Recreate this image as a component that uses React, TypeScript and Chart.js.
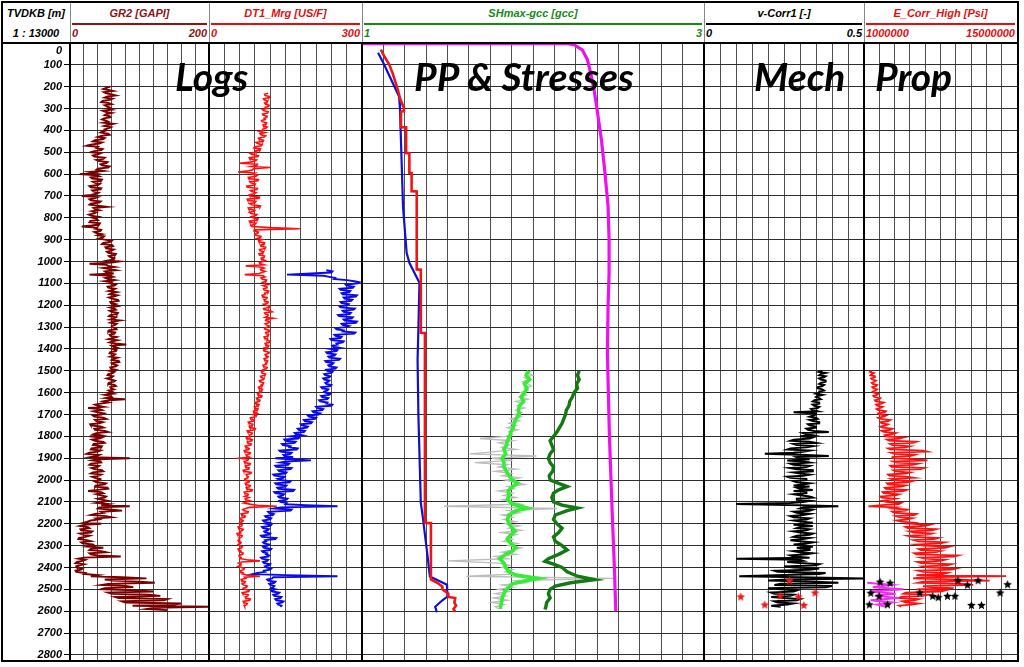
import React, { useEffect, useRef } from 'react';
import { Chart, registerables } from 'chart.js';

Chart.register(...registerables);

// ---------------- DATA ----------------
const DEPTH_MIN = 0;
const DEPTH_MAX = 2828;
const DEPTH_TICKS = [0, 100, 200, 300, 400, 500, 600, 700, 800, 900, 1000, 1100, 1200, 1300, 1400, 1500, 1600, 1700, 1800, 1900, 2000, 2100, 2200, 2300, 2400, 2500, 2600, 2700, 2800];

// GR2 [GAPI], sampled every 5 m from 200 m
const GR2_TOP = 200;
const GR2_STEP = 5;
const gr2 = [
  58, 52, 48, 55, 62, 49, 52, 60, 66, 54, 50, 61, 57, 47, 45, 56, 60, 50, 53, 57,
  54, 60, 47, 51, 60, 53, 50, 57, 58, 49, 46, 52, 55, 48, 62, 54, 49, 59, 56, 50,
  52, 47, 44, 55, 57, 45, 40, 50, 48, 36, 33, 46, 42, 30, 24, 40, 38, 47, 45, 35,
  30, 44, 40, 33, 35, 50, 48, 38, 42, 54, 52, 44, 46, 57, 55, 40, 38, 48, 28, 36,
  14, 38, 42, 30, 32, 46, 45, 33, 36, 43, 40, 28, 30, 45, 44, 32, 34, 41, 38, 30,
  17, 40, 36, 28, 30, 44, 42, 30, 28, 40, 53, 34, 36, 42, 32, 38, 35, 27, 30, 40,
  33, 38, 40, 29, 28, 43, 42, 31, 17, 38, 36, 45, 44, 35, 38, 46, 40, 49, 47, 42,
  50, 60, 58, 48, 46, 61, 62, 51, 52, 63, 60, 53, 55, 66, 65, 56, 58, 64, 63, 55,
  71, 60, 28, 52, 55, 64, 48, 57, 66, 50, 52, 63, 28, 58, 62, 51, 55, 64, 50, 60,
  58, 66, 64, 54, 55, 65, 62, 56, 67, 60, 57, 68, 63, 56, 60, 69, 70, 58, 59, 66,
  62, 68, 58, 64, 66, 57, 60, 69, 68, 58, 56, 66, 63, 58, 72, 62, 58, 67, 65, 60,
  60, 66, 67, 56, 55, 65, 64, 57, 58, 67, 62, 56, 68, 61, 57, 66, 81, 60, 63, 68,
  61, 67, 66, 58, 57, 65, 63, 58, 68, 62, 60, 70, 71, 60, 62, 68, 66, 58, 59, 65,
  57, 64, 62, 55, 54, 62, 60, 53, 58, 65, 63, 56, 55, 64, 66, 58, 59, 63, 56, 60,
  55, 62, 50, 58, 60, 52, 79, 56, 48, 55, 44, 36, 40, 48, 26, 42, 46, 34, 40, 49,
  45, 33, 35, 48, 52, 36, 38, 47, 42, 29, 30, 44, 48, 35, 36, 50, 55, 38, 34, 44,
  28, 46, 42, 32, 36, 48, 50, 34, 33, 46, 45, 31, 30, 44, 40, 28, 24, 42, 38, 30,
  86, 40, 32, 44, 45, 30, 28, 42, 40, 31, 35, 46, 48, 33, 30, 45, 42, 32, 36, 44,
  44, 35, 38, 52, 50, 37, 36, 54, 55, 40, 26, 45, 48, 38, 44, 52, 50, 40, 46, 54,
  47, 38, 55, 45, 86, 42, 40, 58, 75, 45, 48, 36, 30, 52, 60, 38, 42, 30, 25, 20,
  45, 20, 14, 26, 28, 15, 16, 32, 30, 14, 18, 28, 22, 13, 12, 24, 30, 16, 18, 33,
  35, 26, 48, 30, 28, 45, 52, 28, 30, 40, 73, 20, 12, 22, 18, 10, 8, 20, 14, 9,
  10, 18, 16, 8, 9, 22, 20, 40, 30, 75, 110, 50, 60, 100, 122, 55, 45, 80, 91, 50,
  45, 95, 120, 55, 60, 115, 130, 65, 70, 140, 135, 75, 80, 160, 150, 90, 200, 120, 110, 140,
];

// DT1_Mrg [US/F] (red), every 5 m from 230 m
const DT1_TOP = 230;
const DT1_STEP = 5;
const dt1 = [
  116, 109, 110, 119, 118, 107, 108, 115, 114, 109, 111, 118, 117, 110,
  112, 105, 108, 116, 115, 105, 106, 114, 113, 108, 110, 103, 104, 113, 112, 106, 107, 114, 111, 105,
  105, 99, 110, 100, 102, 111, 108, 97, 98, 107, 106, 92, 95, 104, 103, 90, 88, 101, 100, 91,
  92, 81, 84, 97, 96, 79, 80, 93, 90, 82, 60, 95, 94, 83, 120, 87, 86, 78, 57, 90,
  85, 95, 92, 77, 78, 97, 96, 80, 82, 91, 90, 74, 75, 95, 94, 81, 84, 92, 88, 79,
  80, 99, 98, 75, 76, 92, 90, 80, 84, 101, 100, 77, 78, 90, 88, 79, 82, 94, 92, 83,
  86, 96, 95, 79, 80, 92, 90, 82, 84, 120, 178, 89, 88, 97, 96, 90, 92, 102, 100, 94,
  104, 97, 98, 109, 108, 101, 102, 111, 110, 99, 100, 107, 106, 98, 99, 109, 108, 102, 103, 110,
  106, 99, 100, 108, 72, 100, 108, 101, 102, 110, 104, 98, 70, 106, 110, 102, 104, 113, 112, 105,
  110, 116, 106, 113, 114, 107, 108, 117, 116, 109, 110, 104, 105, 114, 113, 108, 109, 116, 115, 107,
  112, 119, 118, 107, 108, 120, 124, 109, 110, 116, 115, 110, 126, 112, 111, 119, 117, 110, 113, 118,
  115, 109, 110, 119, 118, 111, 112, 117, 116, 108, 109, 115, 114, 120, 119, 110, 111, 117, 116, 109,
  113, 107, 108, 118, 117, 110, 111, 116, 115, 108, 109, 115, 114, 111, 112, 106, 107, 114, 113, 106,
  108, 103, 104, 111, 110, 101, 102, 108, 107, 99, 100, 107, 106, 102, 103, 97, 98, 105, 104, 99,
  100, 95, 96, 104, 103, 93, 94, 100, 99, 91, 92, 98, 97, 89, 90, 96, 95, 87, 88, 94,
  86, 93, 92, 81, 82, 89, 88, 77, 78, 86, 85, 79, 80, 91, 90, 75, 76, 85, 84, 79,
  80, 73, 74, 85, 84, 75, 76, 83, 82, 71, 72, 79, 78, 69, 70, 81, 80, 73, 74, 79,
  60, 77, 76, 69, 70, 81, 80, 71, 72, 79, 78, 67, 68, 83, 82, 73, 74, 77, 76, 70,
  70, 79, 78, 71, 72, 81, 80, 73, 74, 85, 84, 69, 70, 77, 76, 70, 78, 71, 72, 80,
  74, 68, 80, 95, 133, 80, 72, 66, 68, 77, 76, 63, 64, 71, 70, 61, 62, 67, 66, 60,
  60, 65, 64, 57, 58, 67, 66, 61, 62, 55, 56, 65, 64, 59, 60, 57, 58, 63, 62, 57,
  60, 65, 64, 57, 58, 63, 62, 67, 66, 59, 60, 63, 62, 75, 100, 64, 58, 63, 62, 57,
  64, 69, 68, 61, 62, 67, 66, 75, 100, 70, 72, 63, 64, 71, 70, 65, 68, 75, 74, 67,
  70, 79, 78, 65, 66, 77, 76, 71, 72, 81, 80, 67, 68, 75, 74, 69, 70,
];

// Shear slowness (blue) in DT1 track, every 5 m from 1040 m
const DTS_TOP = 1040;
const DTS_STEP = 5;
const dts = [
  230, 242, 240, 200, 153, 225, 236, 247, 245, 270, 285, 295,
  292, 268, 270, 284, 282, 256, 258, 277, 275, 260, 262, 290, 288, 264, 266, 281, 279, 258, 260, 274,
  272, 256, 258, 286, 284, 262, 264, 278, 276, 253, 255, 282, 280, 264, 266, 290, 288, 260, 262, 274,
  268, 248, 250, 264, 262, 287, 285, 246, 248, 260, 258, 238, 240, 264, 262, 250, 252, 242, 244, 256,
  238, 252, 250, 230, 232, 248, 246, 234, 236, 257, 255, 228, 230, 244, 242, 234, 236, 250, 248, 230,
  232, 242, 240, 226, 228, 238, 236, 224, 226, 236, 234, 228, 230, 240, 238, 220, 222, 234, 232, 226,
  228, 238, 236, 220, 222, 234, 232, 216, 218, 232, 230, 242, 240, 210, 212, 224, 222, 203, 205, 218,
  215, 194, 196, 210, 208, 186, 188, 202, 200, 180, 182, 194, 192, 174, 176, 188, 186, 168, 170, 182,
  160, 177, 175, 148, 150, 170, 168, 143, 145, 160, 158, 174, 172, 138, 140, 162, 160, 146, 148, 165,
  130, 160, 200, 150, 140, 157, 155, 130, 132, 162, 160, 136, 138, 152, 150, 126, 128, 148, 146, 135,
  140, 160, 158, 130, 132, 152, 150, 134, 136, 167, 165, 128, 130, 147, 145, 136, 138, 154, 152, 138,
  140, 152, 150, 190, 252, 140, 128, 162, 160, 116, 118, 127, 125, 110, 112, 122, 120, 106, 108, 118,
  112, 122, 120, 104, 106, 117, 115, 108, 110, 120, 118, 102, 104, 132, 130, 110, 112, 106, 108, 118,
  115, 106, 108, 122, 120, 104, 106, 114, 112, 118, 116, 102, 104, 116, 114, 106, 108, 120, 118, 110,
  112, 122, 120, 108, 110, 95, 86, 150, 252, 126, 124, 114, 116, 130, 128, 118, 120, 128, 126, 122,
  130, 122, 124, 138, 136, 126, 128, 142, 140, 130, 132, 146, 144, 134, 136, 142, 140,
];

// PP & Stresses track [depth, gcc]
const ppRed: [number, number][] = [
  [30, 1.11], [60, 1.13], [100, 1.16], [140, 1.18], [215, 1.21], [260, 1.225], [298, 1.245], [312, 1.245],
  [314, 1.228], [385, 1.228], [386, 1.258], [503, 1.258], [504, 1.277], [594, 1.277], [595, 1.29], [678, 1.29],
  [679, 1.32], [1036, 1.32], [1037, 1.344], [1326, 1.344], [1327, 1.368], [2196, 1.368], [2197, 1.403],
  [2455, 1.403], [2470, 1.44], [2487, 1.47], [2500, 1.47], [2520, 1.505], [2535, 1.505], [2540, 1.545],
  [2560, 1.54], [2575, 1.55], [2590, 1.535], [2602, 1.545],
];
const ppBlue: [number, number][] = [
  [45, 1.094], [100, 1.13], [150, 1.16], [200, 1.19], [245, 1.217], [300, 1.222], [400, 1.226], [500, 1.23],
  [600, 1.234], [750, 1.24], [960, 1.261], [1006, 1.277], [1097, 1.336], [1300, 1.33], [1450, 1.325],
  [1710, 1.33], [2105, 1.344], [2166, 1.355], [2319, 1.379], [2441, 1.397], [2479, 1.497], [2533, 1.5],
  [2550, 1.47], [2580, 1.428], [2605, 1.438],
];
const obMagenta: [number, number][] = [
  [3, 1.0], [3, 2.2], [8, 2.24], [31, 2.288], [76, 2.318], [137, 2.337], [214, 2.357], [290, 2.372],
  [443, 2.4], [595, 2.421], [748, 2.439], [900, 2.445], [1053, 2.445], [1205, 2.439], [1417, 2.435],
  [1800, 2.447], [2167, 2.464], [2400, 2.476], [2600, 2.484],
];
const shLightGreen: [number, number][] = [
  [1500, 1.975], [1520, 1.96], [1540, 1.98], [1560, 1.95], [1580, 1.965], [1600, 1.95], [1620, 1.93],
  [1640, 1.945], [1660, 1.92], [1680, 1.915], [1700, 1.92], [1720, 1.9], [1740, 1.89], [1760, 1.885],
  [1780, 1.87], [1800, 1.865], [1820, 1.85], [1840, 1.845], [1860, 1.83], [1880, 1.84], [1900, 1.82],
  [1920, 1.83], [1940, 1.83], [1960, 1.845], [1980, 1.86], [2000, 1.88], [2015, 1.91], [2030, 1.88],
  [2050, 1.855], [2070, 1.86], [2090, 1.85], [2110, 1.88], [2128, 1.966], [2140, 1.9], [2160, 1.86],
  [2180, 1.85], [2200, 1.86], [2220, 1.88], [2235, 1.895], [2250, 1.87], [2270, 1.85], [2290, 1.87],
  [2310, 1.9], [2325, 1.88], [2340, 1.84], [2360, 1.805], [2380, 1.83], [2400, 1.84], [2420, 1.86],
  [2435, 1.9], [2450, 2.03], [2462, 1.95], [2475, 1.88], [2490, 1.86], [2505, 1.84], [2520, 1.83],
  [2540, 1.82], [2560, 1.815], [2580, 1.81], [2590, 1.81],
];
// gray raw stress curve, every 10 m from 1500 m
const SH_GRAY_TOP = 1500;
const SH_GRAY_STEP = 10;
const shGray = [
  1.99, 1.96, 2.0, 1.95, 1.98, 1.94, 1.97, 1.99, 1.95, 1.97,
  1.93, 1.96, 1.92, 1.97, 1.9, 1.94, 1.91, 1.95, 1.9, 1.93,
  1.89, 1.93, 1.87, 1.92, 1.86, 1.9, 1.85, 1.91, 1.86, 1.88,
  1.84, 1.69, 1.88, 1.8, 1.86, 1.82, 1.9, 1.78, 1.63, 2.02,
  1.76, 1.88, 1.66, 1.85, 1.8, 1.9, 1.78, 1.87, 1.82, 1.92,
  1.84, 1.9, 1.95, 1.85, 1.89, 1.8, 1.88, 1.83, 1.9, 1.82,
  1.87, 1.93, 1.48, 2.14, 1.86, 1.92, 1.82, 1.88, 1.83, 1.9,
  1.84, 1.92, 1.86, 1.93, 1.82, 1.9, 1.85, 1.88, 1.83, 1.91,
  1.86, 1.93, 1.88, 1.82, 1.9, 1.78, 1.85, 1.5, 1.8, 1.86,
  1.82, 1.88, 1.84, 1.9, 1.61, 2.47, 1.9, 1.96, 1.82, 1.88,
  1.8, 1.86, 1.78, 1.84, 1.77, 1.85, 1.76, 1.83, 1.78, 1.8,
];
const shDarkGreen: [number, number][] = [
  [1500, 2.27], [1520, 2.26], [1540, 2.27], [1560, 2.255], [1580, 2.26], [1600, 2.24], [1620, 2.23],
  [1640, 2.215], [1660, 2.21], [1680, 2.195], [1700, 2.19], [1720, 2.18], [1740, 2.17], [1760, 2.155],
  [1780, 2.14], [1800, 2.12], [1820, 2.1], [1840, 2.11], [1860, 2.12], [1880, 2.1], [1900, 2.09],
  [1920, 2.1], [1940, 2.12], [1960, 2.115], [1980, 2.095], [2000, 2.1], [2015, 2.15], [2030, 2.2],
  [2045, 2.15], [2060, 2.12], [2080, 2.11], [2100, 2.12], [2115, 2.17], [2128, 2.26], [2140, 2.2],
  [2160, 2.13], [2180, 2.12], [2200, 2.14], [2220, 2.17], [2240, 2.15], [2260, 2.12], [2280, 2.13],
  [2300, 2.17], [2320, 2.2], [2340, 2.15], [2360, 2.09], [2372, 2.07], [2385, 2.12], [2400, 2.17],
  [2420, 2.2], [2440, 2.26], [2456, 2.36], [2470, 2.22], [2485, 2.13], [2500, 2.1], [2520, 2.09],
  [2540, 2.1], [2560, 2.08], [2580, 2.075], [2592, 2.07],
];

// v-Corr1 [-], every 5 m from 1500 m
const VC_TOP = 1500;
const VC_STEP = 5;
const vCorr = [
  0.37, 0.36, 0.38, 0.365, 0.36, 0.38, 0.375, 0.36, 0.365, 0.38, 0.38, 0.365, 0.36, 0.375, 0.37, 0.355, 0.355, 0.37, 0.375, 0.36,
  0.36, 0.35, 0.37, 0.355, 0.35, 0.36, 0.365, 0.345, 0.34, 0.36, 0.36, 0.34, 0.345, 0.36, 0.355, 0.335, 0.34, 0.355, 0.28, 0.35,
  0.35, 0.34, 0.33, 0.35, 0.355, 0.33, 0.34, 0.36, 0.36, 0.325, 0.33, 0.35, 0.35, 0.32, 0.325, 0.345, 0.39, 0.31, 0.32, 0.34,
  0.3, 0.34, 0.33, 0.28, 0.27, 0.33, 0.35, 0.28, 0.29, 0.34, 0.32, 0.27, 0.26, 0.33, 0.31, 0.28, 0.19, 0.32, 0.39, 0.29,
  0.3, 0.33, 0.26, 0.31, 0.33, 0.27, 0.28, 0.33, 0.32, 0.27, 0.29, 0.34, 0.34, 0.28, 0.3, 0.33, 0.31, 0.26, 0.27, 0.32,
  0.32, 0.28, 0.29, 0.33, 0.31, 0.28, 0.33, 0.29, 0.3, 0.34, 0.28, 0.32, 0.32, 0.28, 0.3, 0.33, 0.34, 0.29, 0.29, 0.33,
  0.31, 0.27, 0.1, 0.3, 0.42, 0.31, 0.3, 0.34, 0.33, 0.28, 0.29, 0.33, 0.31, 0.27, 0.28, 0.33, 0.32, 0.28, 0.3, 0.34,
  0.31, 0.28, 0.34, 0.3, 0.29, 0.33, 0.32, 0.28, 0.3, 0.34, 0.33, 0.29, 0.28, 0.33, 0.31, 0.27, 0.3, 0.34, 0.32, 0.28,
  0.31, 0.34, 0.29, 0.33, 0.33, 0.28, 0.3, 0.34, 0.32, 0.27, 0.28, 0.33, 0.1, 0.3, 0.31, 0.26, 0.3, 0.36, 0.35, 0.25,
  0.28, 0.36, 0.33, 0.22, 0.23, 0.38, 0.36, 0.25, 0.11, 0.3, 0.5, 0.26, 0.2, 0.35, 0.42, 0.24, 0.22, 0.4, 0.38, 0.2,
  0.24, 0.29, 0.28, 0.21, 0.22, 0.28, 0.27, 0.21, 0.25, 0.3, 0.29, 0.22, 0.23, 0.28, 0.26, 0.21, 0.24,
];
// red core stars in v-Corr track [depth, value]
const vcStars: [number, number][] = [
  [2535, 0.115], [2572, 0.19], [2530, 0.238], [2461, 0.267], [2535, 0.295], [2574, 0.312], [2517, 0.347],
];

// E_Corr_High [Psi], in million psi, every 5 m from 1500 m
const E_UNIT = 1000000;
const E_TOP = 1500;
const E_STEP = 5;
const eCorr = [
  1.7, 1.55, 1.9, 1.7, 1.6, 2.0, 2.0, 1.65, 1.75, 2.1, 1.95, 1.7, 1.8, 2.2, 2.1, 1.75, 1.85, 2.2, 2.05, 1.8,
  1.9, 2.3, 2.2, 1.85, 1.95, 2.5, 2.4, 2.0, 2.1, 2.8, 2.6, 2.1, 2.2, 2.7, 2.5, 2.15, 2.3, 3.0, 2.9, 2.3,
  2.4, 3.0, 2.8, 2.3, 2.5, 3.4, 3.2, 2.5, 2.6, 3.2, 3.0, 2.5, 2.7, 3.6, 3.4, 2.6, 2.8, 3.9, 3.6, 2.9,
  3.0, 4.6, 4.2, 3.1, 3.3, 5.8, 5.5, 3.4, 3.6, 5.2, 4.8, 3.2, 3.4, 6.4, 6.8, 3.5, 3.8, 5.6, 5.2, 3.6,
  3.6, 5.8, 6.8, 3.7, 4.0, 5.9, 5.4, 3.4, 3.5, 6.5, 6.2, 3.7, 3.9, 5.2, 4.8, 3.2, 3.3, 5.0, 5.6, 3.5,
  3.8, 5.4, 5.0, 3.1, 3.2, 4.8, 4.4, 2.9, 3.0, 4.9, 4.6, 2.7, 2.8, 4.2, 3.9, 2.5, 2.6, 3.9, 3.5, 2.7,
  3.0, 4.4, 4.2, 2.6, 1.4, 4.0, 3.6, 5.0, 4.8, 3.6, 3.8, 5.8, 5.6, 3.9, 4.2, 5.4, 5.0, 4.0, 4.4, 5.6,
  5.2, 7.0, 6.6, 4.8, 5.0, 7.6, 7.2, 5.2, 5.6, 7.2, 6.8, 5.0, 5.4, 7.8, 7.4, 5.6, 6.0, 8.4, 8.0, 5.8,
  6.4, 8.8, 8.4, 6.0, 6.2, 8.0, 7.6, 5.6, 5.8, 9.6, 9.2, 6.2, 6.6, 8.4, 8.0, 5.9, 6.2, 9.0, 8.6, 6.4,
  6.8, 9.4, 9.0, 6.0, 6.4, 8.6, 8.2, 5.8, 14.0, 6.2, 5.5, 9.0, 12.5, 6.5, 6.0, 10.0, 11.0, 6.4, 7.0, 9.2,
  5.8, 8.4, 8.0, 4.8, 4.6, 6.8, 6.4, 4.4, 4.2, 6.0, 5.6, 4.5, 4.8, 6.0, 5.4, 4.2, 4.4,
];
// magenta E curve, every 10 m from 2470 m (million psi)
const E_MAG_TOP = 2470;
const E_MAG_STEP = 10;
const eMagenta = [1.3, 3.5, 1.8, 4.6, 1.5, 3.9, 2.0, 4.2, 1.6, 3.6, 2.2, 3.0];
// black core stars in E track [depth, million psi]
const eStars: [number, number][] = [
  [2467, 2.47], [2472, 3.39], [2461, 9.6], [2481, 10.46], [2461, 11.44], [2479, 14.14], [2517, 13.46],
  [2518, 1.62], [2532, 2.38], [2532, 7.29], [2538, 7.79], [2532, 8.64], [2532, 9.32], [2571, 1.49],
  [2571, 3.15], [2574, 10.83], [2574, 11.75], [2517, 6.1],
];

// ---------------- LAYOUT / STYLE ----------------
const PLOT_TOP = 43;
const PLOT_H = 618;
const FONT = '"Liberation Sans", Arial, sans-serif';
const HGRID = '#2e2e2e';
const VGRID = '#505050';

const range = (a: number, b: number, s: number) =>
  Array.from({ length: Math.round((b - a) / s) + 1 }, (_, i) => a + i * s);
const sampled = (top: number, step: number, vals: number[], mul = 1) =>
  vals.map((v, i) => ({ x: v * mul, y: top + i * step }));
const pairs = (arr: [number, number][], mul = 1) => arr.map(([d, v]) => ({ x: v * mul, y: d }));

const lineDs = (data: any[], color: string, width: number) => ({
  data,
  showLine: true,
  borderColor: color,
  backgroundColor: color,
  borderWidth: width,
  pointRadius: 0,
  tension: 0,
  fill: false,
});

function makeStar(color: string, r: number) {
  const c = document.createElement('canvas');
  const s = Math.ceil(r * 2 + 2);
  c.width = s;
  c.height = s;
  const ctx = c.getContext('2d')!;
  ctx.fillStyle = color;
  ctx.beginPath();
  for (let i = 0; i < 10; i++) {
    const a = -Math.PI / 2 + (i * Math.PI) / 5;
    const rr = i % 2 === 0 ? r : r * 0.45;
    const px = s / 2 + rr * Math.cos(a);
    const py = s / 2 + rr * Math.sin(a);
    if (i === 0) ctx.moveTo(px, py);
    else ctx.lineTo(px, py);
  }
  ctx.closePath();
  ctx.fill();
  return c;
}

type TrackCfg = {
  key: string;
  left: number;
  width: number;
  xMin: number;
  xMax: number;
  xStep: number;
  depthAxis?: boolean;
  datasets: () => any[];
};

// Note: Chart.js paints the first dataset on top.
const TRACKS: TrackCfg[] = [
  {
    key: 'gr', left: 2, width: 207, xMin: 0, xMax: 200, xStep: 20, depthAxis: true,
    datasets: () => [lineDs(sampled(GR2_TOP, GR2_STEP, gr2), '#7a0000', 1.9)],
  },
  {
    key: 'dt', left: 209, width: 153, xMin: 0, xMax: 300, xStep: 30,
    datasets: () => [
      lineDs(sampled(DT1_TOP, DT1_STEP, dt1), '#ff1010', 1.6),
      lineDs(sampled(DTS_TOP, DTS_STEP, dts), '#0a0ae8', 1.9),
    ],
  },
  {
    key: 'sh', left: 362, width: 342, xMin: 1, xMax: 3, xStep: 0.125,
    datasets: () => [
      lineDs(pairs(obMagenta), '#ee10ee', 3.2),
      lineDs(pairs(ppRed), '#ee1515', 2.6),
      lineDs(pairs(ppBlue), '#1010d0', 2.2),
      lineDs(pairs(shDarkGreen), '#137a13', 3.4),
      lineDs(pairs(shLightGreen), '#33ee33', 3.6),
      lineDs(sampled(SH_GRAY_TOP, SH_GRAY_STEP, shGray), '#bdbdbd', 1.4),
    ],
  },
  {
    key: 'vc', left: 704, width: 160, xMin: 0, xMax: 0.5, xStep: 0.05,
    datasets: () => [
      { data: pairs(vcStars), showLine: false, pointStyle: makeStar('#ee1a1a', 4.5), pointRadius: 5 },
      lineDs(sampled(VC_TOP, VC_STEP, vCorr), '#000000', 2),
    ],
  },
  {
    key: 'e', left: 864, width: 153, xMin: 1000000, xMax: 15000000, xStep: 1400000,
    datasets: () => [
      { data: pairs(eStars, E_UNIT), showLine: false, pointStyle: makeStar('#000000', 4.5), pointRadius: 5 },
      lineDs(sampled(E_MAG_TOP, E_MAG_STEP, eMagenta, E_UNIT), '#ee30ee', 2),
      lineDs(sampled(E_TOP, E_STEP, eCorr, E_UNIT), '#ff1010', 1.8),
    ],
  },
];

const HEADERS = [
  { left: 2, width: 68, title: 'TVDKB [m]', color: '#000', line: '', min: '', max: '', sub: '1 : 13000' },
  { left: 70, width: 139, title: 'GR2 [GAPI]', color: '#8b1414', line: '#8b1414', min: '0', max: '200', sub: '' },
  { left: 209, width: 153, title: 'DT1_Mrg [US/F]', color: '#e01010', line: '#e01010', min: '0', max: '300', sub: '' },
  { left: 362, width: 342, title: 'SHmax-gcc [gcc]', color: '#158a15', line: '#158a15', min: '1', max: '3', sub: '' },
  { left: 704, width: 160, title: 'v-Corr1 [-]', color: '#000', line: '#000', min: '0', max: '0.5', sub: '' },
  { left: 864, width: 153, title: 'E_Corr_High [Psi]', color: '#e01010', line: '#e01010', min: '1000000', max: '15000000', sub: '' },
];

const BIG_LABELS = [
  { text: 'Logs', left: 175 },
  { text: 'PP & Stresses', left: 414 },
  { text: 'Mech', left: 754 },
  { text: 'Prop', left: 875 },
];

const SEPARATORS = [70, 209, 362, 704, 864];

function makeOptions(cfg: TrackCfg): any {
  const xTicks = range(cfg.xMin, cfg.xMax, cfg.xStep);
  const yAxis: any = {
    type: 'linear',
    position: 'left',
    reverse: true,
    bounds: 'data',
    min: DEPTH_MIN,
    max: DEPTH_MAX,
    afterBuildTicks: (s: any) => { s.ticks = DEPTH_TICKS.map((v) => ({ value: v })); },
    grid: { color: HGRID, lineWidth: 1, drawTicks: false },
    border: { display: false },
    ticks: { display: false },
    afterFit: (s: any) => { s.width = 0; s.paddingTop = 0; s.paddingBottom = 0; },
  };
  if (cfg.depthAxis) {
    yAxis.grid = { color: HGRID, lineWidth: 1, drawTicks: true, tickLength: 6, tickColor: '#000', tickWidth: 1 };
    yAxis.border = { display: true, color: '#000', width: 2 };
    yAxis.ticks = {
      display: true,
      autoSkip: false,
      padding: 2,
      color: '#000',
      font: { family: FONT, size: 11, style: 'italic', weight: 'bold' },
      callback: (v: any) => (v === 0 ? '' : String(v)),
    };
    yAxis.afterFit = (s: any) => { s.width = 68; s.paddingTop = 0; s.paddingBottom = 0; };
  }
  return {
    responsive: false,
    maintainAspectRatio: false,
    animation: false,
    events: [],
    layout: { padding: 0, autoPadding: false },
    plugins: { legend: { display: false }, tooltip: { enabled: false }, title: { display: false } },
    scales: {
      x: {
        type: 'linear',
        position: 'top',
        bounds: 'data',
        min: cfg.xMin,
        max: cfg.xMax,
        afterBuildTicks: (s: any) => { s.ticks = xTicks.map((v) => ({ value: v })); },
        grid: { color: VGRID, lineWidth: 1, drawTicks: false },
        border: { display: false },
        ticks: { display: false },
        afterFit: (s: any) => { s.height = 0; s.paddingLeft = 0; s.paddingRight = 0; },
      },
      y: yAxis,
    },
  };
}

function TrackChart({ cfg }: { cfg: TrackCfg }) {
  const ref = useRef<HTMLCanvasElement>(null);
  useEffect(() => {
    if (!ref.current) return;
    const chart = new Chart(ref.current, {
      type: 'scatter',
      data: { datasets: cfg.datasets() },
      options: makeOptions(cfg),
    } as any);
    return () => chart.destroy();
  }, [cfg]);
  return (
    <canvas
      ref={ref}
      width={cfg.width}
      height={PLOT_H}
      style={{ position: 'absolute', left: cfg.left, top: PLOT_TOP, width: cfg.width, height: PLOT_H }}
    />
  );
}

const abs = (s: React.CSSProperties): React.CSSProperties => ({ position: 'absolute', ...s });

export default function App() {
  const hdrFont: React.CSSProperties = { fontFamily: FONT, fontWeight: 'bold', fontStyle: 'italic', fontSize: 11, lineHeight: '13px', whiteSpace: 'nowrap' };
  return (
    <div style={{ position: 'fixed', left: 0, top: 0, width: 1024, height: 667, background: '#fff', overflow: 'hidden' }}>
      {TRACKS.map((t) => (
        <TrackChart key={t.key} cfg={t} />
      ))}

      {/* header */}
      {HEADERS.map((h, i) => (
        <div key={i} style={abs({ left: h.left, top: 2, width: h.width, height: 41 })}>
          <div style={abs({ left: 0, top: 5, width: h.width, textAlign: 'center', color: h.color, ...hdrFont })}>{h.title}</div>
          {h.line && <div style={abs({ left: 2, top: 21, width: h.width - 4, height: 2, background: h.line })} />}
          {h.sub && <div style={abs({ left: 0, top: 25, width: h.width, textAlign: 'center', color: h.color, ...hdrFont })}>{h.sub}</div>}
          {h.min && <div style={abs({ left: 2, top: 25, color: h.color, ...hdrFont })}>{h.min}</div>}
          {h.max && <div style={abs({ right: 2, top: 25, color: h.color, ...hdrFont })}>{h.max}</div>}
        </div>
      ))}
      {SEPARATORS.map((x) => (
        <div key={'hs' + x} style={abs({ left: x, top: 2, width: 1, height: 41, background: '#888' })} />
      ))}
      {/* depth label 0 kept inside the plot */}
      <div style={abs({ left: 2, top: 44, width: 60, textAlign: 'right', color: '#000', ...hdrFont })}>0</div>

      {/* plot separators and frame */}
      {SEPARATORS.map((x) => (
        <div key={'ps' + x} style={abs({ left: x - 1, top: PLOT_TOP, width: 2, height: PLOT_H, background: '#000' })} />
      ))}
      <div style={abs({ left: 2, top: 42, width: 1015, height: 2, background: '#000' })} />
      <div style={abs({ left: 1, top: 1, width: 1018, height: 661, border: '2px solid #000', boxSizing: 'border-box' })} />

      {/* big annotations */}
      {BIG_LABELS.map((b) => (
        <div
          key={b.text}
          style={abs({
            left: b.left,
            top: 56,
            fontFamily: 'Lato, "Open Sans", sans-serif',
            fontWeight: 'bold',
            fontStyle: 'italic',
            fontSize: 39,
            lineHeight: '40px',
            color: '#000',
            whiteSpace: 'nowrap',
          })}
        >
          {b.text}
        </div>
      ))}
    </div>
  );
}
